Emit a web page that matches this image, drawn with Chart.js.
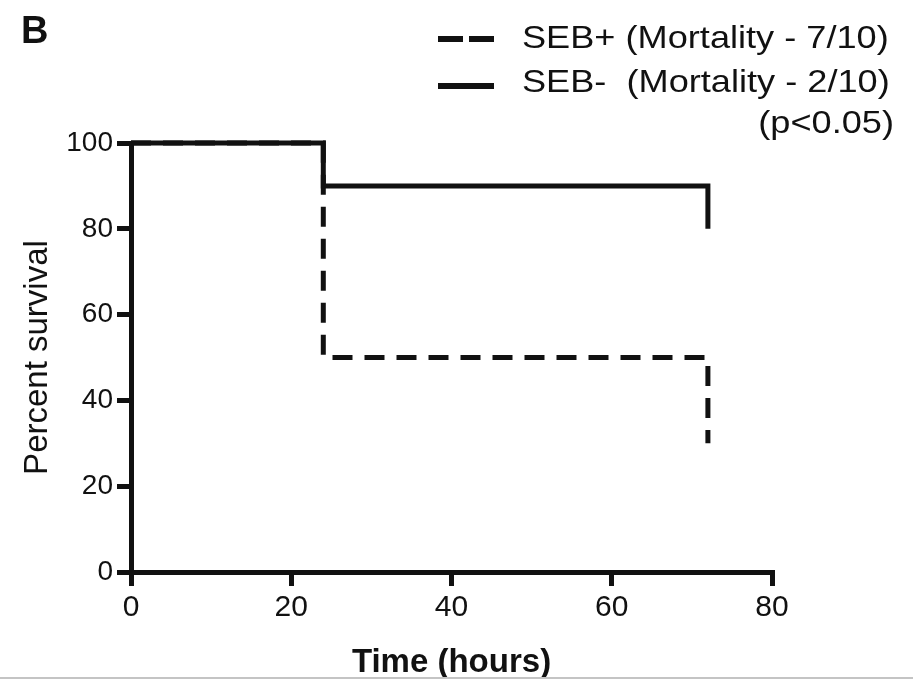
<!DOCTYPE html>
<html><head><meta charset="utf-8">
<script src="https://cdn.jsdelivr.net/npm/chart.js@4/dist/chart.umd.min.js"></script>
<style>html,body{margin:0;padding:0;background:#fff;} canvas{display:block}</style>
</head><body>
<canvas id="c" width="913" height="680"></canvas>
<script>
// ---- data ----
const timeHours = [0, 24, 72];
const sebPlusSurvival = [100, 50, 30];
const sebMinusSurvival = [100, 90, 80];
const seriesLabels = ['SEB+ (Mortality - 7/10)', 'SEB-  (Mortality - 2/10)'];
const pValueNote = '(p<0.05)';
const panelLetter = 'B';
const xTickValues = [0, 20, 40, 60, 80];
const yTickValues = [0, 20, 40, 60, 80, 100];
const xAxisTitle = 'Time (hours)';
const yAxisTitle = 'Percent survival';

const FONT = "'Liberation Sans', Arial, Helvetica, sans-serif";
const INK = '#111';

const toPoints = (xs, ys) => xs.map((x, i) => ({x: x, y: ys[i]}));

const annotatePlugin = {
  id: 'annotate',
  afterDraw(chart) {
    const ctx = chart.ctx;
    ctx.save();
    // faint bottom border line of the original figure
    ctx.strokeStyle = '#c4c4c4';
    ctx.lineWidth = 2;
    ctx.beginPath();
    ctx.moveTo(0, 678);
    ctx.lineTo(913, 678);
    ctx.stroke();
    // panel letter
    ctx.fillStyle = INK;
    ctx.font = "bold 38px " + FONT;
    ctx.textBaseline = 'middle';
    ctx.textAlign = 'left';
    ctx.fillText(panelLetter, 21, 33);
    // legend
    const textRows = [39, 83];
    const sampleRows = [39, 86];
    const dashes = [[25, 6], []];
    const sx = 1.13;
    ctx.font = "32px " + FONT;
    textRows.forEach((y, i) => {
      ctx.strokeStyle = INK;
      ctx.lineWidth = 6;
      ctx.setLineDash(dashes[i]);
      ctx.beginPath();
      ctx.moveTo(438, sampleRows[i]);
      ctx.lineTo(494, sampleRows[i]);
      ctx.stroke();
      ctx.setLineDash([]);
      ctx.save();
      ctx.translate(522, y);
      ctx.scale(sx, 1);
      ctx.fillText(seriesLabels[i], 0, 0);
      ctx.restore();
    });
    ctx.save();
    ctx.translate(894, 124);
    ctx.scale(sx, 1);
    ctx.textAlign = 'right';
    ctx.fillText(pValueNote, 0, 0);
    ctx.restore();
    ctx.restore();
  }
};

new Chart(document.getElementById('c'), {
  type: 'line',
  data: {
    datasets: [
      {
        label: seriesLabels[0],
        data: toPoints(timeHours, sebPlusSurvival),
        borderColor: INK,
        borderWidth: 5,
        borderDash: [20, 12],
        borderCapStyle: 'butt',
        stepped: 'before',
        pointRadius: 0,
        fill: false,
        clip: false,
        order: 1
      },
      {
        label: seriesLabels[1],
        data: toPoints(timeHours, sebMinusSurvival),
        borderColor: INK,
        borderWidth: 5,
        stepped: 'before',
        pointRadius: 0,
        fill: false,
        clip: false,
        order: 0
      }
    ]
  },
  options: {
    responsive: false,
    animation: false,
    events: [],
    layout: {padding: {left: 0, right: 141, top: 143, bottom: 0}},
    plugins: {legend: {display: false}, tooltip: {enabled: false}, title: {display: false}},
    scales: {
      x: {
        type: 'linear', min: 0, max: 80,
        afterBuildTicks: s => { s.ticks = xTickValues.map(v => ({value: v})); },
        afterFit: s => { s.height = 108; },
        grid: {drawOnChartArea: false, drawTicks: true, tickLength: 14, color: INK, lineWidth: 5},
        border: {display: true, color: INK, width: 5},
        ticks: {color: INK, font: {family: FONT, size: 30, lineHeight: 1.2}, padding: 4, maxRotation: 0},
        title: {display: true, text: xAxisTitle, color: INK, font: {family: FONT, size: 33, weight: 'bold', lineHeight: 1}, padding: {top: 0, bottom: 1}}
      },
      y: {
        type: 'linear', min: 0, max: 100,
        afterBuildTicks: s => { s.ticks = yTickValues.map(v => ({value: v})); },
        afterFit: s => { s.width = 131; },
        grid: {drawOnChartArea: false, drawTicks: true, tickLength: 14, color: INK, lineWidth: 5},
        border: {display: true, color: INK, width: 5},
        ticks: {color: INK, font: {family: FONT, size: 28}, padding: 4},
        title: {display: true, text: yAxisTitle, color: INK, font: {family: FONT, size: 33, lineHeight: 1}, padding: {top: 21, bottom: 0}}
      }
    }
  },
  plugins: [annotatePlugin]
});
</script>
</body></html>
